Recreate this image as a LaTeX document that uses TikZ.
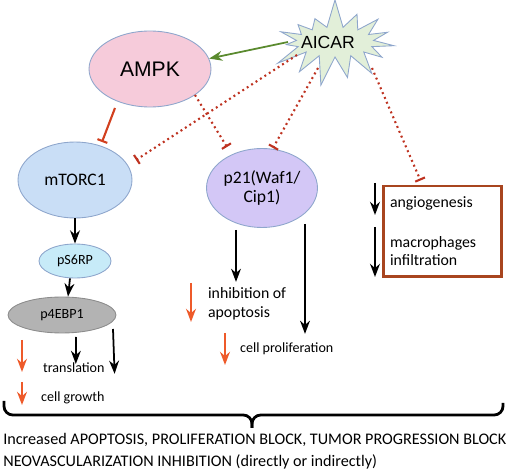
\documentclass[tikz,border=0pt]{standalone}
\usepackage{fontspec}
\setmainfont{Carlito}
\newfontfamily\helv{Liberation Sans}
\usetikzlibrary{positioning, arrows.meta, shapes.geometric, shapes.symbols, calc, decorations.pathreplacing}

\definecolor{nodeline}{RGB}{142,166,204}
\definecolor{ampkpink}{RGB}{246,203,218}
\definecolor{mtorblue}{RGB}{201,222,246}
\definecolor{pscyan}{RGB}{199,235,248}
\definecolor{pgray}{RGB}{179,179,179}
\definecolor{pgrayline}{RGB}{140,140,140}
\definecolor{plav}{RGB}{211,199,246}
\definecolor{aicgreen}{RGB}{226,239,217}
\definecolor{actgreen}{RGB}{90,138,46}
\definecolor{inhred}{RGB}{210,64,31}
\definecolor{dotred}{RGB}{190,50,32}
\definecolor{downred}{RGB}{238,90,42}
\definecolor{boxbrown}{RGB}{168,69,31}

\begin{document}
\begin{tikzpicture}[
    x=0.02cm, y=-0.02cm,
    >=Stealth,
    every node/.style={font=\fontsize{9}{10.5}\selectfont},
    kinase/.style={ellipse, draw=nodeline, fill=ampkpink, line width=0.5pt,
                   minimum width=2.44cm, minimum height=1.52cm, inner sep=0pt,
                   font=\helv\fontsize{12}{14}\selectfont},
    drug/.style={starburst, starburst points=15, starburst point height=0.6cm,
                 random starburst=7, draw=nodeline, fill=aicgreen, line width=0.5pt,
                 minimum width=2.75cm, minimum height=1.8cm, inner sep=0pt,
                 font=\helv\fontsize{10}{12}\selectfont},
    complex/.style={ellipse, draw=nodeline, fill=mtorblue, line width=0.5pt,
                    minimum width=2.28cm, minimum height=1.52cm, inner sep=0pt,
                    font=\fontsize{10}{12}\selectfont},
    target/.style={ellipse, draw=nodeline, fill=plav, line width=0.5pt,
                   minimum width=2.22cm, minimum height=1.58cm, inner sep=0pt,
                   align=center, font=\fontsize{10}{10.8}\selectfont},
    phospho/.style={ellipse, draw=nodeline, fill=pscyan, line width=0.5pt,
                    minimum width=1.44cm, minimum height=0.68cm, inner sep=0pt,
                    font=\fontsize{8}{10}\selectfont},
    phosgray/.style={ellipse, draw=pgrayline, fill=pgray, line width=0.5pt,
                     minimum width=2.16cm, minimum height=0.72cm, inner sep=0pt,
                     font=\fontsize{8}{10}\selectfont},
    effect/.style={anchor=west, align=left, inner sep=1pt},
    small/.style={font=\fontsize{8}{10}\selectfont},
    act/.style={->, line width=1pt, draw=actgreen},
    inh/.style={-{Bar[width=6pt, line width=1.2pt]}, line width=1.2pt, draw=inhred},
    dotinh/.style={-{Bar[width=6pt, line width=1.2pt]}, line width=1.2pt, draw=dotred,
                   dash pattern=on 1.1pt off 1.9pt},
    arr/.style={->, line width=1pt, draw=black},
    down/.style={->, line width=1pt, draw=downred},
    bracket/.style={line width=1.6pt, rounded corners=5pt},
]
\useasboundingbox (0,0) rectangle (512,473);

% Nodes
\node[kinase]   (ampk)  at (150, 69)  {AMPK};
\node[drug]     (aicar) at (335, 42)  {\hspace*{-8pt}AICAR};
\node[complex]  (mtorc) at (75, 180)  {mTORC1};
\node[target]   (p21)   at (262, 188) {p21(Waf1/\\Cip1)};
\node[phospho]  (ps6)   at (75, 261)  {pS6RP};
\node[phosgray] (p4)    at (62, 315)  {p4EBP1};
\node[draw=boxbrown, line width=1.7pt, minimum width=2.38cm, minimum height=1.82cm]
      (box) at (442.5, 231.5) {};

% Effects
\node[effect, small] (trans)  at (41, 368)  {translation};
\node[effect, small] (growth) at (39, 398)  {cell growth};
\node[effect]        (apop)   at (206, 304) {inhibition of\\apoptosis};
\node[effect, small] (prolif) at (238, 349) {cell proliferation};
\node[effect]        (angio)  at (388, 203) {angiogenesis};
\node[effect]        (macro)  at (388, 251) {macrophages\\infiltration};

% Edges
\draw[act] ($(aicar)+(-47,0)$) -- (ampk.10);
\draw[inh] ($(ampk)+(-35,39)$) -- ($(mtorc)+(27,-38)$);
\draw[dotinh] ($(ampk)+(45,26)$) -- ($(p21)+(-35,-41)$);
\draw[dotinh] ($(aicar)+(-38,13)$) -- ($(mtorc)+(61,-20)$);
\draw[dotinh] ($(aicar)+(-17,26)$) -- ($(p21)+(11,-40)$);
\draw[dotinh] ($(aicar)+(37,26)$) -- ($(box.north west)+(39,-4)$);

\draw[arr] (mtorc.south) -- (ps6.north);
\draw[arr] ($(ps6.south)+(-5,0)$) -- ($(p4.north)+(6,0)$);
\draw[arr] ($(p4)+(14,22)$) -- ($(trans.north)+(2,3)$);
\draw[arr] ($(p4)+(51,14)$) -- ($(growth.north east)+(8,-16)$);
\draw[down] ($(trans.west)+(-19,-28)$) -- ($(trans.west)+(-19,4)$);
\draw[down] ($(growth.west)+(-17,-16)$) -- ($(growth.west)+(-17,7)$);

\draw[arr] ($(p21.south)+(-26,2)$) -- ($(apop.north west)+(30,-4)$);
\draw[arr] ($(p21.south)+(43,-4)$) -- ($(prolif.north west)+(67,-7)$);
\draw[down] ($(apop.west)+(-15,-21)$) -- ($(apop.west)+(-15,18)$);
\draw[down] ($(prolif.west)+(-13,-16)$) -- ($(prolif.west)+(-13,16)$);

\draw[arr] ($(angio.west)+(-13,-20)$) -- ($(angio.west)+(-13,12)$);
\draw[arr] ($(macro.west)+(-13,-24)$) -- ($(macro.west)+(-13,26)$);

% Brace and outcome
\coordinate (bl)   at (4, 401);
\coordinate (br)   at (503, 403);
\coordinate (bmid) at (252, 415);
\coordinate (btip) at (252, 428);
\draw[bracket] (bl) |- (bmid) -- (btip);
\draw[bracket] (br) |- (bmid) -- (btip);
\node[anchor=north west, align=left, inner sep=0pt, font=\fontsize{9.2}{12.5}\selectfont]
      (result) at (3, 433)
      {Increased APOPTOSIS, PROLIFERATION BLOCK, TUMOR PROGRESSION BLOCK\\
       NEOVASCULARIZATION INHIBITION (directly or indirectly)};

\end{tikzpicture}
\end{document}
